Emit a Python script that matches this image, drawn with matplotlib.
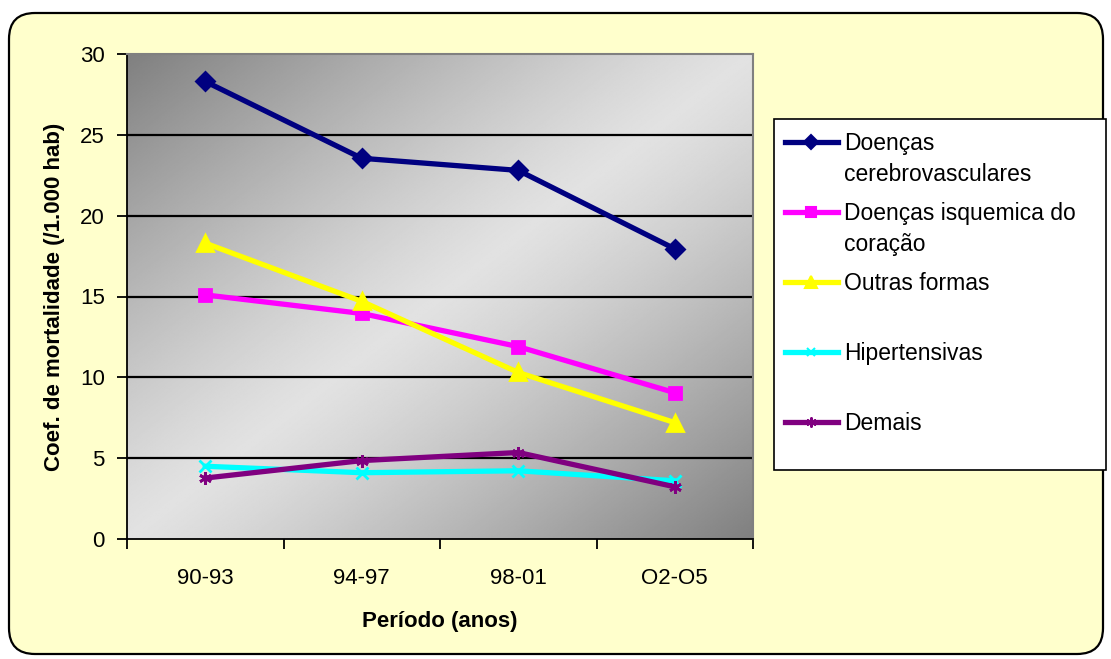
#!/usr/bin/env python3
"""
Coeficiente de mortalidade por doencas do aparelho circulatorio, por periodo.
Recreated in the old Excel chart style (gray gradient plot area, yellow frame).
"""

import numpy as np
import matplotlib.pyplot as plt
from matplotlib.lines import Line2D
from matplotlib.patches import FancyBboxPatch, Rectangle
from matplotlib.transforms import IdentityTransform

plt.rcParams['font.family'] = ['Liberation Sans', 'DejaVu Sans']

# data
periods = ['90-93', '94-97', '98-01', 'O2-O5']
cerebrovasculares = [28.3, 23.55, 22.8, 17.95]
isquemica = [15.1, 13.95, 11.9, 9.05]
outras_formas = [18.3, 14.7, 10.3, 7.2]
hipertensivas = [4.5, 4.1, 4.22, 3.6]
demais = [3.77, 4.85, 5.35, 3.23]

labels = ['Doenças\ncerebrovasculares', 'Doenças isquemica do\ncoração',
          'Outras formas', 'Hipertensivas', 'Demais']

W, H = 1111, 659


def fx(px):
    return px / W


def fy(py):
    return 1 - py / H


fig = plt.figure(figsize=(W / 100, H / 100), dpi=100, facecolor='white')

# yellow chart area with rounded border
frame = FancyBboxPatch((9, 5), 1094, 641, boxstyle='round,pad=0,rounding_size=26',
                       transform=IdentityTransform(), facecolor='#FFFFCC',
                       edgecolor='black', linewidth=1.6, zorder=-10)
fig.patches.append(frame)

ax = fig.add_axes([fx(127), fy(539), fx(753) - fx(127), fy(54) - fy(539)])
ax.set_facecolor('none')

x = np.arange(len(periods))
ax.set_xlim(-0.5, len(periods) - 0.5)
ax.set_ylim(0, 30)

# diagonal gradient: dark at top-left and bottom-right, light along the other diagonal
n = 400
gx, gy = np.meshgrid(np.linspace(0, 1, n), np.linspace(0, 1, n))
t = (gx + gy) / 2
light = 1 - np.abs(2 * t - 1) ** 1.2
shade = 0.50 + (0.885 - 0.50) * light
ax.imshow(shade, cmap='gray', vmin=0, vmax=1, extent=(0, 1, 0, 1),
          transform=ax.transAxes, aspect='auto', origin='upper', zorder=0,
          interpolation='bilinear')

# horizontal grid
for v in [5, 10, 15, 20, 25]:
    ax.axhline(v, color='black', linewidth=1.6, zorder=1)

styles = [
    (cerebrovasculares, '#000080', 'D', 9),
    (isquemica, '#FF00FF', 's', 9),
    (outras_formas, '#FFFF00', '^', 11),
    (hipertensivas, '#00FFFF', 'x', 8),
    (demais, '#800080', (6, 2, 0), 9),
]
for vals, color, marker, ms in styles:
    ax.plot(x, vals, color=color, linewidth=3.8, marker=marker, markersize=ms,
            markeredgecolor=color, markerfacecolor=color, markeredgewidth=2,
            zorder=3, clip_on=False)

# axes styling
for side in ['top', 'right']:
    ax.spines[side].set_color('#808080')
    ax.spines[side].set_linewidth(1.5)
for side in ['left', 'bottom']:
    ax.spines[side].set_color('black')
    ax.spines[side].set_linewidth(1.3)

ax.set_yticks(range(0, 31, 5))
ax.tick_params(axis='y', direction='out', length=7, width=1.3, labelsize=16, pad=9)
ax.set_xticks(np.arange(-0.5, len(periods), 1.0))
ax.set_xticklabels([])
ax.tick_params(axis='x', which='major', direction='out', length=7, width=1.3)
ax.set_xticks(x, minor=True)
ax.set_xticklabels(periods, minor=True, fontsize=16)
ax.tick_params(axis='x', which='minor', length=0, pad=21)

ax.set_xlabel('Período (anos)', fontsize=16, fontweight='bold', labelpad=16)
ax.set_ylabel('Coef. de mortalidade (/1.000 hab)', fontsize=16, fontweight='bold',
              labelpad=11)

# legend box drawn like the Excel one
fig.patches.append(Rectangle((fx(774), fy(470)), fx(1106) - fx(774), fy(119) - fy(470),
                             transform=fig.transFigure, facecolor='white',
                             edgecolor='black', linewidth=1.2, zorder=5))
for i, ((vals, color, marker, ms), label) in enumerate(zip(styles, labels)):
    yc = 142 + 70 * i
    fig.add_artist(Line2D([fx(785), fx(838)], [fy(yc), fy(yc)], color=color,
                          linewidth=3.8, zorder=6))
    fig.add_artist(Line2D([fx(811)], [fy(yc)], color=color, marker=marker,
                          markersize=ms * 0.8, markeredgewidth=1.5, zorder=6))
    for j, line in enumerate(label.split('\n')):
        fig.text(fx(844), fy(yc + 31 * j + 8), line, fontsize=16.5, va='baseline',
                 ha='left', zorder=7)

fig.savefig('out.png', dpi=100, facecolor=fig.get_facecolor())
